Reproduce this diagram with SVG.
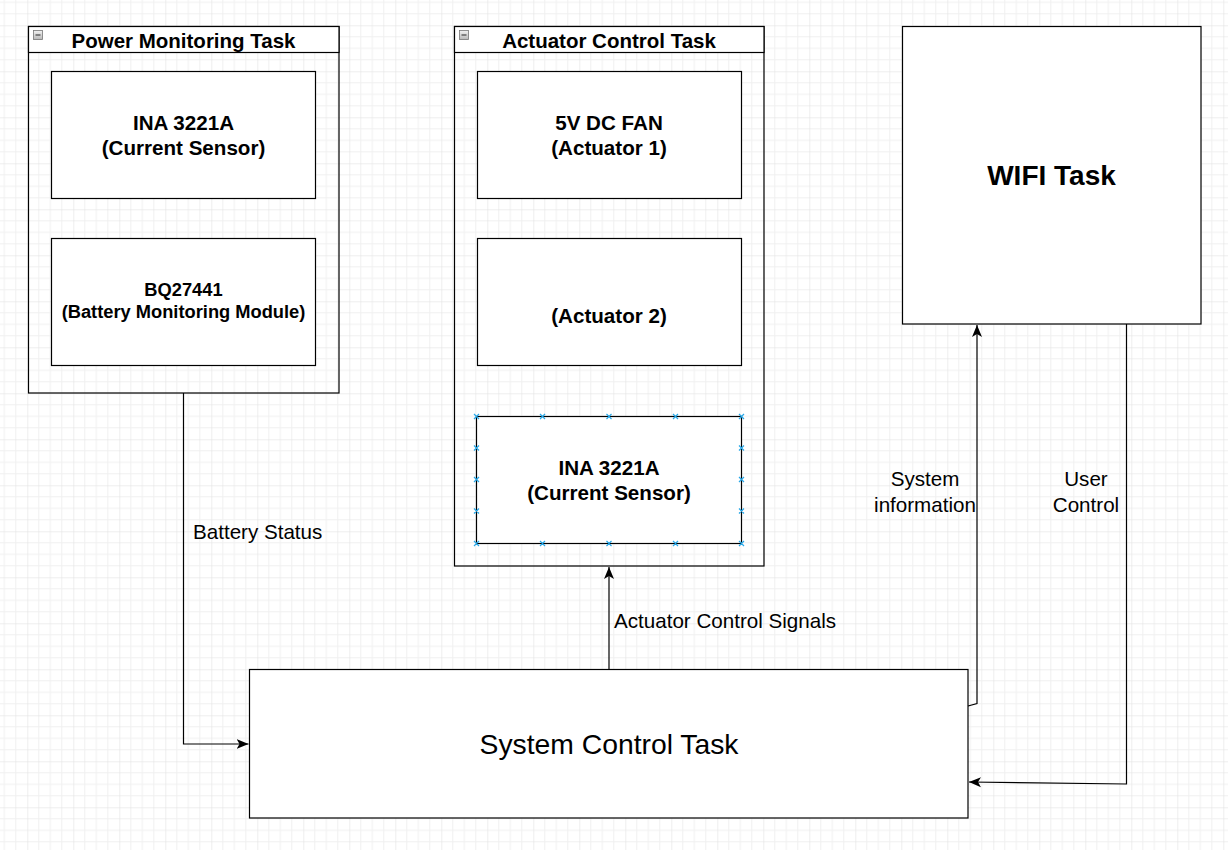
<svg xmlns="http://www.w3.org/2000/svg" width="1228" height="850" viewBox="0 0 1228 850">
<defs>
<pattern id="grid" patternUnits="userSpaceOnUse" x="27.3" y="25.3" width="46" height="46">
<path d="M11.5,0V46M23,0V46M34.5,0V46M0,11.5H46M0,23H46M0,34.5H46" fill="none" stroke="#f0f0f0" stroke-width="1"/>
<path d="M0,0V46M0,0H46" fill="none" stroke="#dedede" stroke-width="1"/>
</pattern>
<marker id="arr" markerUnits="userSpaceOnUse" markerWidth="14" markerHeight="12" viewBox="0 0 14 12" refX="12" refY="6" orient="auto">
<path d="M0,1 L12,6 L0,11 L3,6 Z" fill="#000"/>
</marker>
<linearGradient id="icon" x1="0" y1="0" x2="0" y2="1">
<stop offset="0" stop-color="#f2f2f2"/>
<stop offset="1" stop-color="#b8b8b8"/>
</linearGradient>
</defs>
<style>
.box{fill:#fff;stroke:#000;stroke-width:1.2}
.cont{fill:none;stroke:#000;stroke-width:1.2}
.hdr{fill:#fff;stroke:#000;stroke-width:1.2}
.t{font-family:"Liberation Sans",Arial,Helvetica,sans-serif;fill:#000;text-anchor:middle}
.b{font-weight:bold}
.lbl{font-family:"Liberation Sans",Arial,Helvetica,sans-serif;font-size:20.6px;fill:#000}
.edge{fill:none;stroke:#000;stroke-width:1.2}
.cp{stroke:#29a8e8;stroke-width:1.2;fill:none}
.ic{fill:url(#icon);stroke:#777;stroke-width:0.8}
</style>
<rect width="1228" height="850" fill="#fff"/>
<rect width="1228" height="850" fill="url(#grid)"/>

<g id="power-monitoring-task">
<rect class="cont" x="28.5" y="26.5" width="310.5" height="366.5"/>
<rect class="hdr" x="28.5" y="26.5" width="310.5" height="26"/>
<rect class="ic" x="33.5" y="30.5" width="9" height="9"/>
<path d="M35.5,35H40.5" stroke="#444" stroke-width="1.2"/>
<text class="t b" x="183.5" y="48" font-size="20.5">Power Monitoring Task</text>
</g>
<g id="ina-power">
<rect class="box" x="51.5" y="71.5" width="264" height="127"/>
<text class="t b" x="183.5" y="130" font-size="20.6">INA 3221A</text>
<text class="t b" x="183.5" y="155" font-size="20.6">(Current Sensor)</text>
</g>
<g id="bq27441">
<rect class="box" x="51.5" y="238.5" width="264" height="127"/>
<text class="t b" x="183.5" y="295.5" font-size="18.3">BQ27441</text>
<text class="t b" x="183.5" y="318" font-size="18.3">(Battery Monitoring Module)</text>
</g>

<g id="actuator-control-task">
<rect class="cont" x="454.5" y="26.5" width="309.5" height="539.5"/>
<rect class="hdr" x="454.5" y="26.5" width="309.5" height="26"/>
<rect class="ic" x="459.5" y="30.5" width="9" height="9"/>
<path d="M461.5,35H466.5" stroke="#444" stroke-width="1.2"/>
<text class="t b" x="609" y="48" font-size="20.5">Actuator Control Task</text>
</g>
<g id="fan">
<rect class="box" x="477.5" y="71.5" width="264" height="127"/>
<text class="t b" x="609" y="130" font-size="20.6">5V DC FAN</text>
<text class="t b" x="609" y="155" font-size="20.6">(Actuator 1)</text>
</g>
<g id="actuator2">
<rect class="box" x="477.5" y="238.5" width="264" height="127"/>
<text class="t b" x="609" y="323" font-size="20.6">(Actuator 2)</text>
</g>
<g id="ina-actuator">
<rect class="box" x="476.5" y="416.5" width="265" height="127"/>
<text class="t b" x="609" y="475" font-size="20.6">INA 3221A</text>
<text class="t b" x="609" y="500" font-size="20.6">(Current Sensor)</text>
<path class="cp" d="M474,414l5,5m0,-5l-5,5 M540,414l5,5m0,-5l-5,5 M606.5,414l5,5m0,-5l-5,5 M673,414l5,5m0,-5l-5,5 M739,414l5,5m0,-5l-5,5
M474,541l5,5m0,-5l-5,5 M540,541l5,5m0,-5l-5,5 M606.5,541l5,5m0,-5l-5,5 M673,541l5,5m0,-5l-5,5 M739,541l5,5m0,-5l-5,5
M474,445.5l5,5m0,-5l-5,5 M474,477l5,5m0,-5l-5,5 M474,508.5l5,5m0,-5l-5,5
M739,445.5l5,5m0,-5l-5,5 M739,477l5,5m0,-5l-5,5 M739,508.5l5,5m0,-5l-5,5"/>
</g>

<g id="wifi-task">
<rect class="box" x="902.5" y="26.5" width="298.5" height="297.5"/>
<text class="t b" x="1051.5" y="185" font-size="28">WIFI Task</text>
</g>

<g id="system-control-task">
<rect class="box" x="249.5" y="669.5" width="718.5" height="148.5"/>
<text class="t" x="609" y="754" font-size="28.3">System Control Task</text>
</g>

<g id="connectors">
<path class="edge" d="M183.5,393V744H248.5" marker-end="url(#arr)"/>
<path class="edge" d="M609,669V567" marker-end="url(#arr)"/>
<path class="edge" d="M968,706L977,703.5V325" marker-end="url(#arr)"/>
<path class="edge" d="M1126.5,324V784L969,782" marker-end="url(#arr)"/>
<text class="lbl" x="193" y="539">Battery Status</text>
<text class="lbl" x="614" y="628">Actuator Control Signals</text>
<text class="lbl" x="925" y="486" text-anchor="middle">System</text>
<text class="lbl" x="925" y="512" text-anchor="middle">information</text>
<text class="lbl" x="1086" y="486" text-anchor="middle">User</text>
<text class="lbl" x="1086" y="512" text-anchor="middle">Control</text>
</g>
</svg>
